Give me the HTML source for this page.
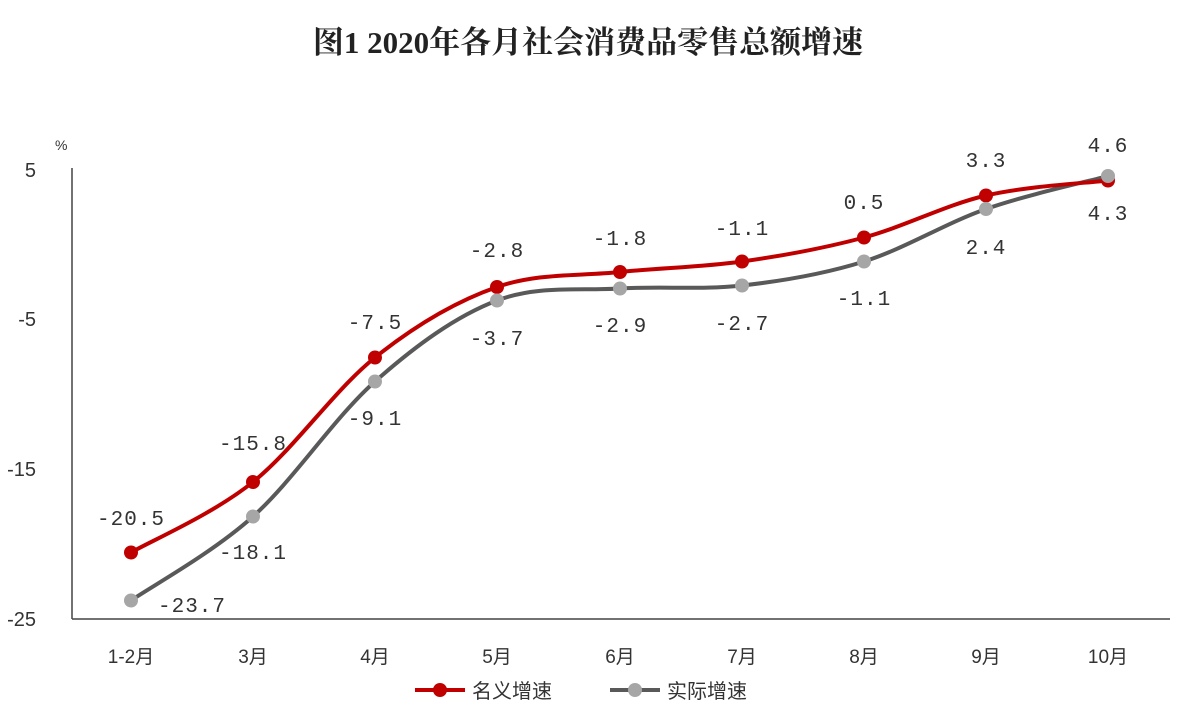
<!DOCTYPE html>
<html><head><meta charset="utf-8"><style>
html,body{margin:0;padding:0;background:#fff;}
svg{display:block}
</style></head><body>
<svg id="s" width="1190" height="718" xmlns="http://www.w3.org/2000/svg">
<text x="588" y="53" text-anchor="middle" font-family="Liberation Serif, 'Noto Serif CJK SC', serif" font-weight="bold" font-size="31" fill="#222">图1 2020年各月社会消费品零售总额增速</text>
<text x="55" y="150" font-family="Liberation Sans, sans-serif" font-size="14" fill="#333">%</text>
<g font-family="Liberation Sans, sans-serif" font-size="20" fill="#333" text-anchor="end">
<text x="36" y="177">5</text><text x="36" y="326">-5</text><text x="36" y="476">-15</text><text x="36" y="626">-25</text>
</g>
<line x1="72" y1="168" x2="72" y2="619" stroke="#444" stroke-width="1.5"/>
<line x1="72" y1="619" x2="1170" y2="619" stroke="#444" stroke-width="1.5"/>
<g id="xl" font-family="Liberation Sans, 'Noto Sans CJK SC', sans-serif" font-size="19" fill="#333" text-anchor="middle"></g>
<path id="gp" fill="none" stroke="#595959" stroke-width="4"/>
<path id="rp" fill="none" stroke="#c00000" stroke-width="4"/>
<g id="mk"></g>
<g id="lb" font-family="'Liberation Mono', monospace" font-size="21" fill="#333" text-anchor="middle" letter-spacing="1"></g>
<line x1="415" y1="690" x2="465" y2="690" stroke="#c00000" stroke-width="4"/><circle cx="440" cy="690" r="7" fill="#c00000"/>
<text x="472" y="698" font-family="'Noto Sans CJK SC', sans-serif" font-size="20" fill="#333">名义增速</text>
<line x1="610" y1="690" x2="660" y2="690" stroke="#595959" stroke-width="4"/><circle cx="635" cy="690" r="7" fill="#a6a6a6"/>
<text x="667" y="698" font-family="'Noto Sans CJK SC', sans-serif" font-size="20" fill="#333">实际增速</text>
</svg>
<script>
var xs=[131,253,375,497,620,742,864,986,1108];
var names=["1-2月","3月","4月","5月","6月","7月","8月","9月","10月"];
var red=[-20.5,-15.8,-7.5,-2.8,-1.8,-1.1,0.5,3.3,4.3];
var gray=[-23.7,-18.1,-9.1,-3.7,-2.9,-2.7,-1.1,2.4,4.6];
function Y(v){return 170+(5-v)*15;}
function path(d){var p=d.map(function(v,i){return [xs[i],Y(v)]});var s="M"+p[0];
for(var i=0;i<p.length-1;i++){var p0=p[i-1]||p[i],p1=p[i],p2=p[i+1],p3=p[i+2]||p2;var t=6;
s+=" C"+(p1[0]+(p2[0]-p0[0])/t)+","+(p1[1]+(p2[1]-p0[1])/t)+" "+(p2[0]-(p3[0]-p1[0])/t)+","+(p2[1]-(p3[1]-p1[1])/t)+" "+p2[0]+","+p2[1];}
return s;}
document.getElementById("rp").setAttribute("d",path(red));
document.getElementById("gp").setAttribute("d",path(gray));
var ns="http://www.w3.org/2000/svg",mk=document.getElementById("mk"),lb=document.getElementById("lb"),xl=document.getElementById("xl");
function c(x,y,f){var e=document.createElementNS(ns,"circle");e.setAttribute("cx",x);e.setAttribute("cy",y);e.setAttribute("r",7);e.setAttribute("fill",f);mk.appendChild(e);}
function t(g,x,y,s){var e=document.createElementNS(ns,"text");e.setAttribute("x",x);e.setAttribute("y",y);e.textContent=s;g.appendChild(e);}
for(var i=0;i<9;i++){c(xs[i],Y(red[i]),"#c00000");c(xs[i],Y(gray[i]),"#a6a6a6");t(xl,xs[i],663,names[i]);}
var rl=[[131,518],[253,443],[375,322],[497,250],[620,238],[742,228],[864,202],[986,160],[1108,213]];
var gl=[[192,605],[253,552],[375,418],[497,338],[620,325],[742,323],[864,298],[986,247],[1108,145]];
for(var i=0;i<9;i++){t(lb,rl[i][0],rl[i][1]+7,red[i].toFixed(1));t(lb,gl[i][0],gl[i][1]+7,gray[i].toFixed(1));}
</script>
</body></html>
